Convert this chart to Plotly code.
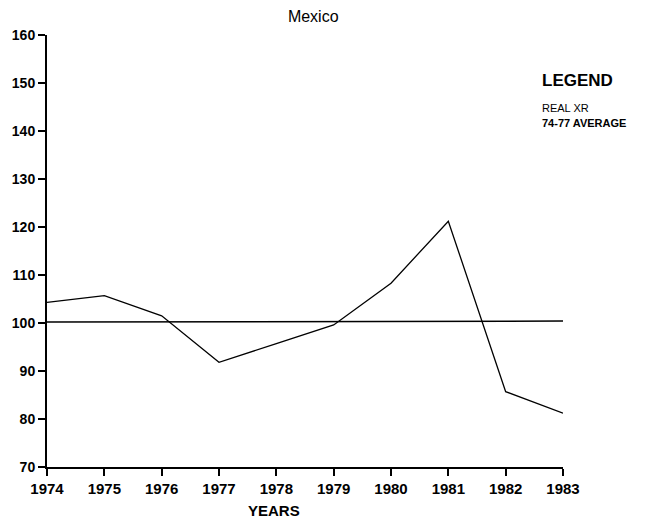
import plotly.graph_objects as go

years = [1974, 1975, 1976, 1977, 1978, 1979, 1980, 1981, 1982, 1983]
real_xr = [104.3, 105.7, 101.5, 91.8, 95.7, 99.6, 108.3, 121.2, 85.7, 81.2]
avg_years = [1974, 1983]
avg_7477 = [100.2, 100.4]
y_ticks = [70, 80, 90, 100, 110, 120, 130, 140, 150, 160]

FONT = "Liberation Sans"

fig = go.Figure()
fig.add_trace(go.Scatter(x=years, y=real_xr, mode="lines", name="REAL XR",
                         line=dict(color="black", width=1.3)))
fig.add_trace(go.Scatter(x=avg_years, y=avg_7477, mode="lines", name="74-77 AVERAGE",
                         line=dict(color="black", width=1.5)))

fig.update_layout(
    width=665, height=523,
    margin=dict(l=39, r=110, t=27, b=64, autoexpand=False),
    paper_bgcolor="white", plot_bgcolor="white",
    showlegend=False,
    title=dict(text="Mexico", x=0.459, xanchor="center", y=0.983, yanchor="middle",
               font=dict(family=FONT, size=16, color="black")),
    xaxis=dict(range=[1974, 1983], tickvals=years, ticktext=[str(y) for y in years],
               automargin=False,
               showgrid=False, zeroline=False, showline=True, linecolor="black", linewidth=2,
               ticks="outside", ticklen=7, tickwidth=1.5, tickcolor="black",
               tickfont=dict(family=FONT, size=15, color="black", weight="bold")),
    yaxis=dict(range=[70, 160], tickvals=y_ticks, automargin=False,
               showgrid=False, zeroline=False, showline=True, linecolor="black", linewidth=2,
               ticks="outside", ticklen=7, tickwidth=1.5, tickcolor="black",
               tickfont=dict(family=FONT, size=14, color="black", weight="bold")),
    annotations=[
        dict(text="YEARS", xref="paper", yref="paper", x=0.44, y=-0.1, xanchor="center", yanchor="middle",
             showarrow=False, font=dict(family=FONT, size=15, color="black", weight="bold")),
        dict(text="LEGEND", xref="paper", yref="paper", x=0.955, y=0.895, xanchor="left", yanchor="middle",
             showarrow=False, font=dict(family=FONT, size=17, color="black", weight="bold")),
        dict(text="REAL XR", xref="paper", yref="paper", x=0.955, y=0.832, xanchor="left", yanchor="middle",
             showarrow=False, font=dict(family=FONT, size=11, color="black")),
        dict(text="74-77 AVERAGE", xref="paper", yref="paper", x=0.955, y=0.796, xanchor="left", yanchor="middle",
             showarrow=False, font=dict(family=FONT, size=11, color="black", weight="bold")),
    ],
)

fig.write_html("out.html")
